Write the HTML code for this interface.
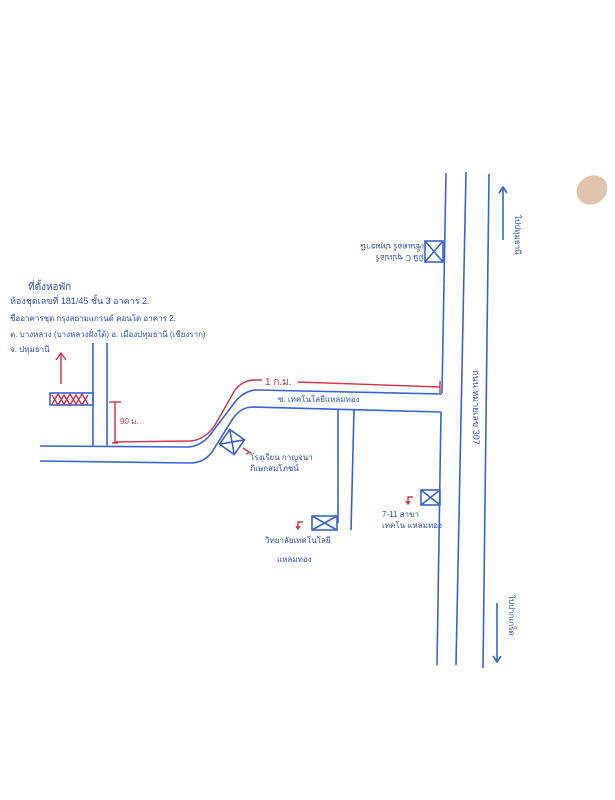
<!DOCTYPE html>
<html><head><meta charset="utf-8"><style>
html,body{margin:0;padding:0;background:#fff;}
svg{display:block;}
text{font-family:"Liberation Sans","Noto Sans CJK SC",sans-serif;fill:#2a4fc0;}
.r{fill:#d0334a;}
</style></head><body>
<svg width="615" height="800" viewBox="0 0 615 800" xmlns="http://www.w3.org/2000/svg">
<rect width="615" height="800" fill="#fff"/>
<ellipse cx="592" cy="190" rx="16" ry="14" fill="#d9b49a" opacity="0.8" transform="rotate(-35 592 190)"/>
<g stroke="#3a64d0" stroke-width="1.6" fill="none">
<!-- main road -->
<polyline points="446,173 442,393"/>
<polyline points="441,412 437,665"/>
<polyline points="466,172 456,665"/>
<polyline points="489,174 483,668"/>
<!-- side road -->
<path d="M442,394 L257,390 Q245,390 235,402 L210,435 Q200,447 187,447 L40,446"/>
<path d="M441,412 L253,407 Q240,407 232,420 L212,452 Q204,463 190,463 L40,461"/>
<!-- small vertical road left -->
<line x1="93" y1="343" x2="93" y2="446"/>
<line x1="107" y1="343" x2="107" y2="446"/>
<!-- small road down -->
<line x1="338" y1="410" x2="338" y2="523"/>
<line x1="354" y1="410" x2="351" y2="530"/>
<!-- buildings -->
<rect x="50" y="393" width="43" height="12"/>
<rect x="425" y="241" width="18" height="21"/><path d="M425,241 L443,262 M443,241 L425,262"/>
<rect x="421" y="490" width="19" height="15"/><path d="M421,490 L440,505 M440,490 L421,505"/>
<rect x="312" y="516" width="25" height="14"/><path d="M312,516 L337,530 M337,516 L312,530"/>
<g transform="rotate(35 232 442)"><rect x="223" y="433" width="18" height="18"/><path d="M223,433 L241,451 M241,433 L223,451"/></g>
<!-- direction arrows -->
<line x1="503" y1="188" x2="503" y2="240"/><path d="M499,193 L503,187 L507,193"/>
<line x1="497" y1="603" x2="497" y2="662"/><path d="M493,656 L497,662 L501,656"/>
</g>
<g stroke="#d0334a" stroke-width="1.4" fill="none">
<path d="M52,404 l6,-10 l6,10 l6,-10 l6,10 l6,-10 l6,10 M52,395 l6,10 l6,-10 l6,10 l6,-10 l6,10 l6,-10"/>
<line x1="61" y1="384" x2="61" y2="354"/><path d="M56,360 L61,353 L66,360"/>
<line x1="115" y1="402" x2="115" y2="443"/><line x1="109" y1="402" x2="121" y2="402"/><line x1="112" y1="443" x2="118" y2="443"/>
<path d="M115,442 L190,441 Q205,440 215,425 L235,390 Q243,380 255,380 L262,380"/>
<line x1="298" y1="382" x2="440" y2="387"/><line x1="440" y1="381" x2="440" y2="393"/>
<path d="M243,448 l6,4 M246,454 l5,-2"/>
<path d="M303,522 h-5 v6 M296,526 l2,3 l2,-3"/>
<path d="M413,497 h-5 v6 M406,501 l2,3 l2,-3"/>
</g>
<text class="r" x="265" y="385" font-size="10" fill="#d0334a">1 ก.ม.</text>
<text class="r" x="120" y="424" font-size="8" fill="#d0334a">90 ม.</text>
<g font-size="9">
<text x="28" y="290" font-size="10">ที่ตั้งหอพัก</text>
<text x="10" y="304">ห้องชุดเลขที่ 181/45 ชั้น 3 อาคาร 2.</text>
<text x="10" y="321" font-size="8">ชื่ออาคารชุด กรุงสยามแกรนด์ คอนโด อาคาร 2.</text>
<text x="10" y="337" font-size="8">ต. บางหลวง (บางหลวงฝั่งใต้) อ. เมืองปทุมธานี (เชียงราก)</text>
<text x="10" y="352" font-size="8">จ. ปทุมธานี</text>
<text x="278" y="402" font-size="8">ซ. เทคโนโลยีแหลมทอง</text>
<text x="250" y="460" font-size="8">โรงเรียน กาญจนา</text>
<text x="250" y="471" font-size="8">ภิเษกสมโภชน์</text>
<text x="265" y="543" font-size="8">วิทยาลัยเทคโนโลยี</text>
<text x="277" y="562" font-size="8">แหลมทอง</text>
<text x="382" y="517" font-size="8">7-11 สาขา</text>
<text x="382" y="528" font-size="8">เทคโน แหลมทอง</text>
<g transform="rotate(180 395 252)"><text x="366" y="249" font-size="8">มินิ C ซุปเปอร์</text><text x="366" y="260" font-size="8">เซ็นเตอร์ ปทุมธานี</text></g>
<text transform="translate(473,370) rotate(90)" font-size="9">ถนน หมายเลข 307</text>
<text transform="translate(515,215) rotate(90)" font-size="8">ไปปทุมธานี</text>
<text transform="translate(509,595) rotate(90)" font-size="8">ไปปากเกร็ด</text>
</g>
</svg>
</body></html>
